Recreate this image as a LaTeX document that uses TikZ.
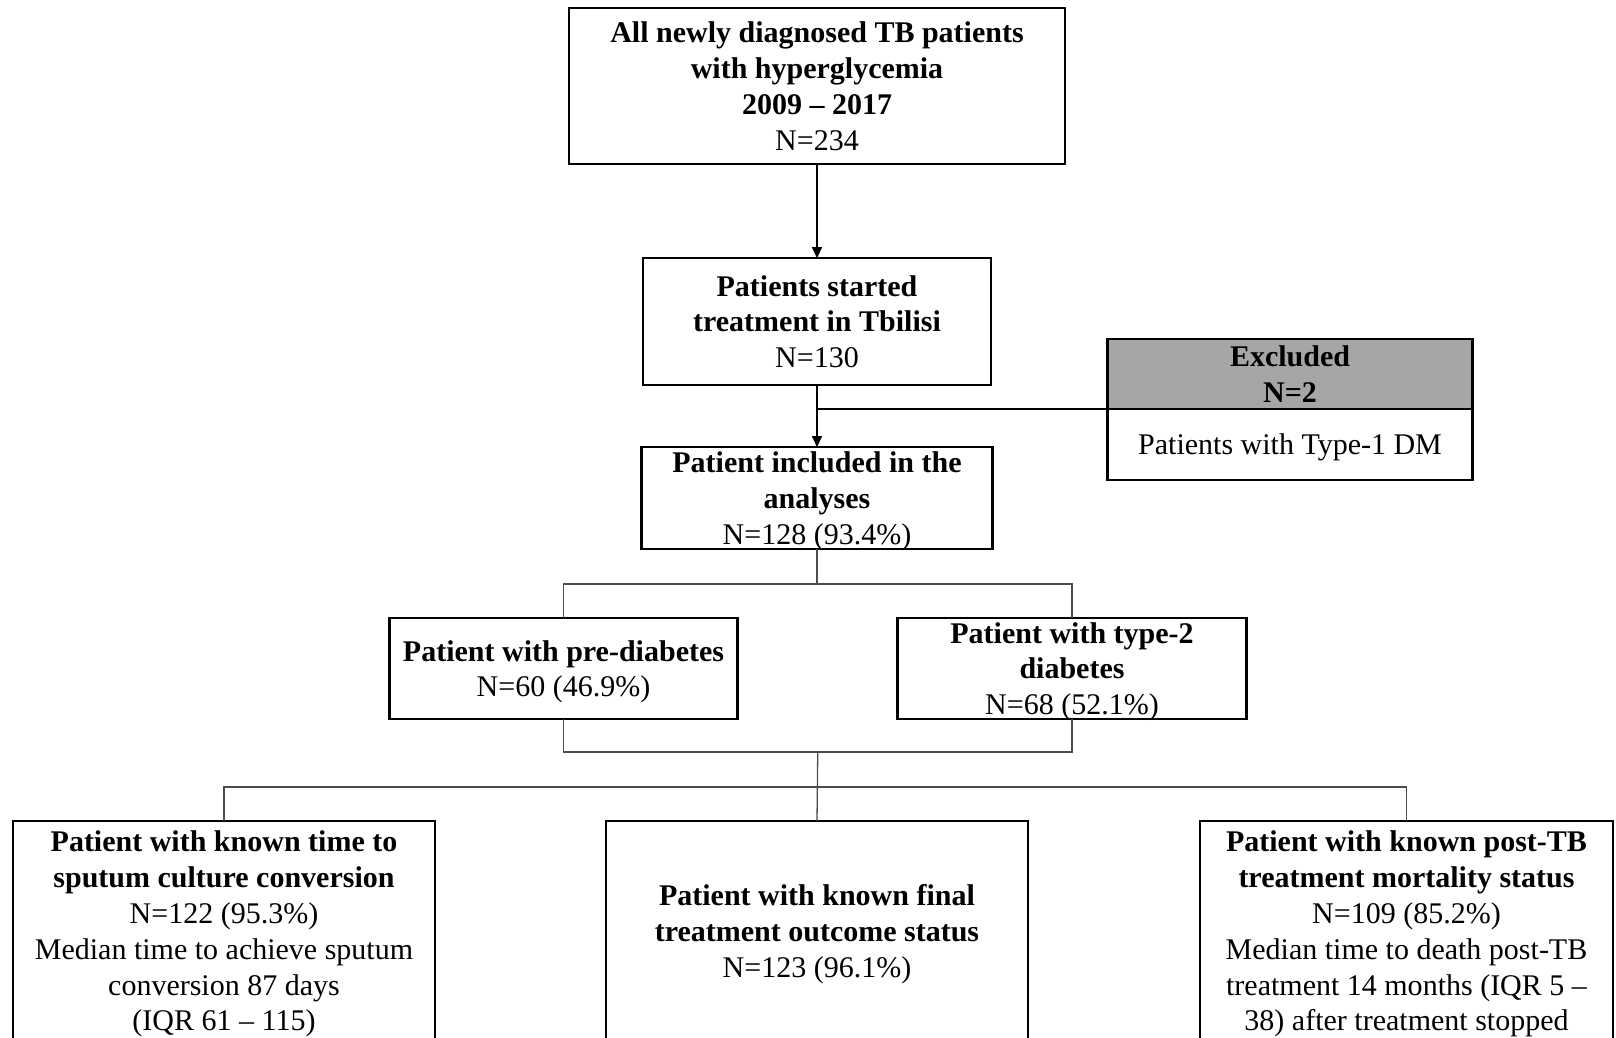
\documentclass[tikz,border=0pt]{standalone}
\usepackage{fontspec}
\setmainfont{Liberation Serif}
\usetikzlibrary{positioning, arrows.meta, calc}
\definecolor{exclgray}{RGB}{166,166,166}

\begin{document}
\begin{tikzpicture}[x=1pt, y=-1pt,
    box/.style={rectangle, draw=black, line width=2.4pt, fill=white, align=center, inner sep=0pt, outer sep=0pt, text depth=-5pt, font=\fontsize{30}{35.8}\selectfont},
    headbox/.style={box, fill=exclgray},
    arrow/.style={-{Triangle[length=11pt, width=10pt]}, line width=2pt},
    link/.style={draw=black!70, line width=1.3pt}
]
\clip (0,0) rectangle (1616,1037);

\node[box, minimum width=496pt, minimum height=156pt] (all) at (817,86) {\textbf{All newly diagnosed TB patients}\\\textbf{with hyperglycemia}\\\textbf{2009 -- 2017}\\N=234};
\node[box, minimum width=348pt, minimum height=127pt, below=94pt of all] (started) {\textbf{Patients started}\\\textbf{treatment in Tbilisi}\\N=130};
\node[box, minimum width=351pt, minimum height=102pt, below=62pt of started] (incl) {\textbf{Patient included in the}\\\textbf{analyses}\\N=128 (93.4\%)};

\node[headbox, minimum width=365pt, minimum height=70pt] (exclhead) at (1290,374) {\textbf{Excluded}\\\textbf{N=2}};
\node[box, minimum width=365pt, minimum height=71pt, below=0pt of exclhead] (exclbody) {Patients with Type-1 DM};

\node[box, minimum width=348pt, minimum height=101pt, below left=69pt and -96pt of incl] (pre) {\textbf{Patient with pre-diabetes}\\N=60 (46.9\%)};
\node[box, minimum width=349pt, minimum height=101pt, below right=69pt and -95pt of incl] (typetwo) {\textbf{Patient with type-2}\\\textbf{diabetes}\\N=68 (52.1\%)};

\node[box, minimum width=422pt, minimum height=220pt, below=272pt of incl] (outcome) {\textbf{Patient with known final}\\\textbf{treatment outcome status}\\N=123 (96.1\%)};
\node[box, minimum width=422pt, minimum height=220pt, left=171pt of outcome] (culture) {\textbf{Patient with known time to}\\\textbf{sputum culture conversion}\\N=122 (95.3\%)\\Median time to achieve sputum\\conversion 87 days\\(IQR 61 -- 115)};
\node[box, minimum width=413pt, minimum height=220pt, right=172pt of outcome] (mortality) {\textbf{Patient with known post-TB}\\\textbf{treatment mortality status}\\N=109 (85.2\%)\\Median time to death post-TB\\treatment 14 months (IQR 5 --\\38) after treatment stopped};

\draw[arrow] (all) -- (started);
\draw[arrow] (started) -- (incl);
\draw[line width=2.4pt] (exclhead.south west) -- (exclhead.south west -| started.south);

% thin brackets between the groups
\draw[link] (incl.south) -- ++(0,35);
\draw[link] (pre.north) -- ++(0,-34) -| (typetwo.north);
\draw[link] (pre.south) -- ++(0,33) -| (typetwo.south);
\coordinate (merge) at ($(pre.south)!0.5!(typetwo.south)+(0,33)$);
\draw[link] (merge) -- (outcome.north);
\draw[link] (culture.north) -- ++(0,-34) -| (mortality.north);
\end{tikzpicture}
\end{document}
